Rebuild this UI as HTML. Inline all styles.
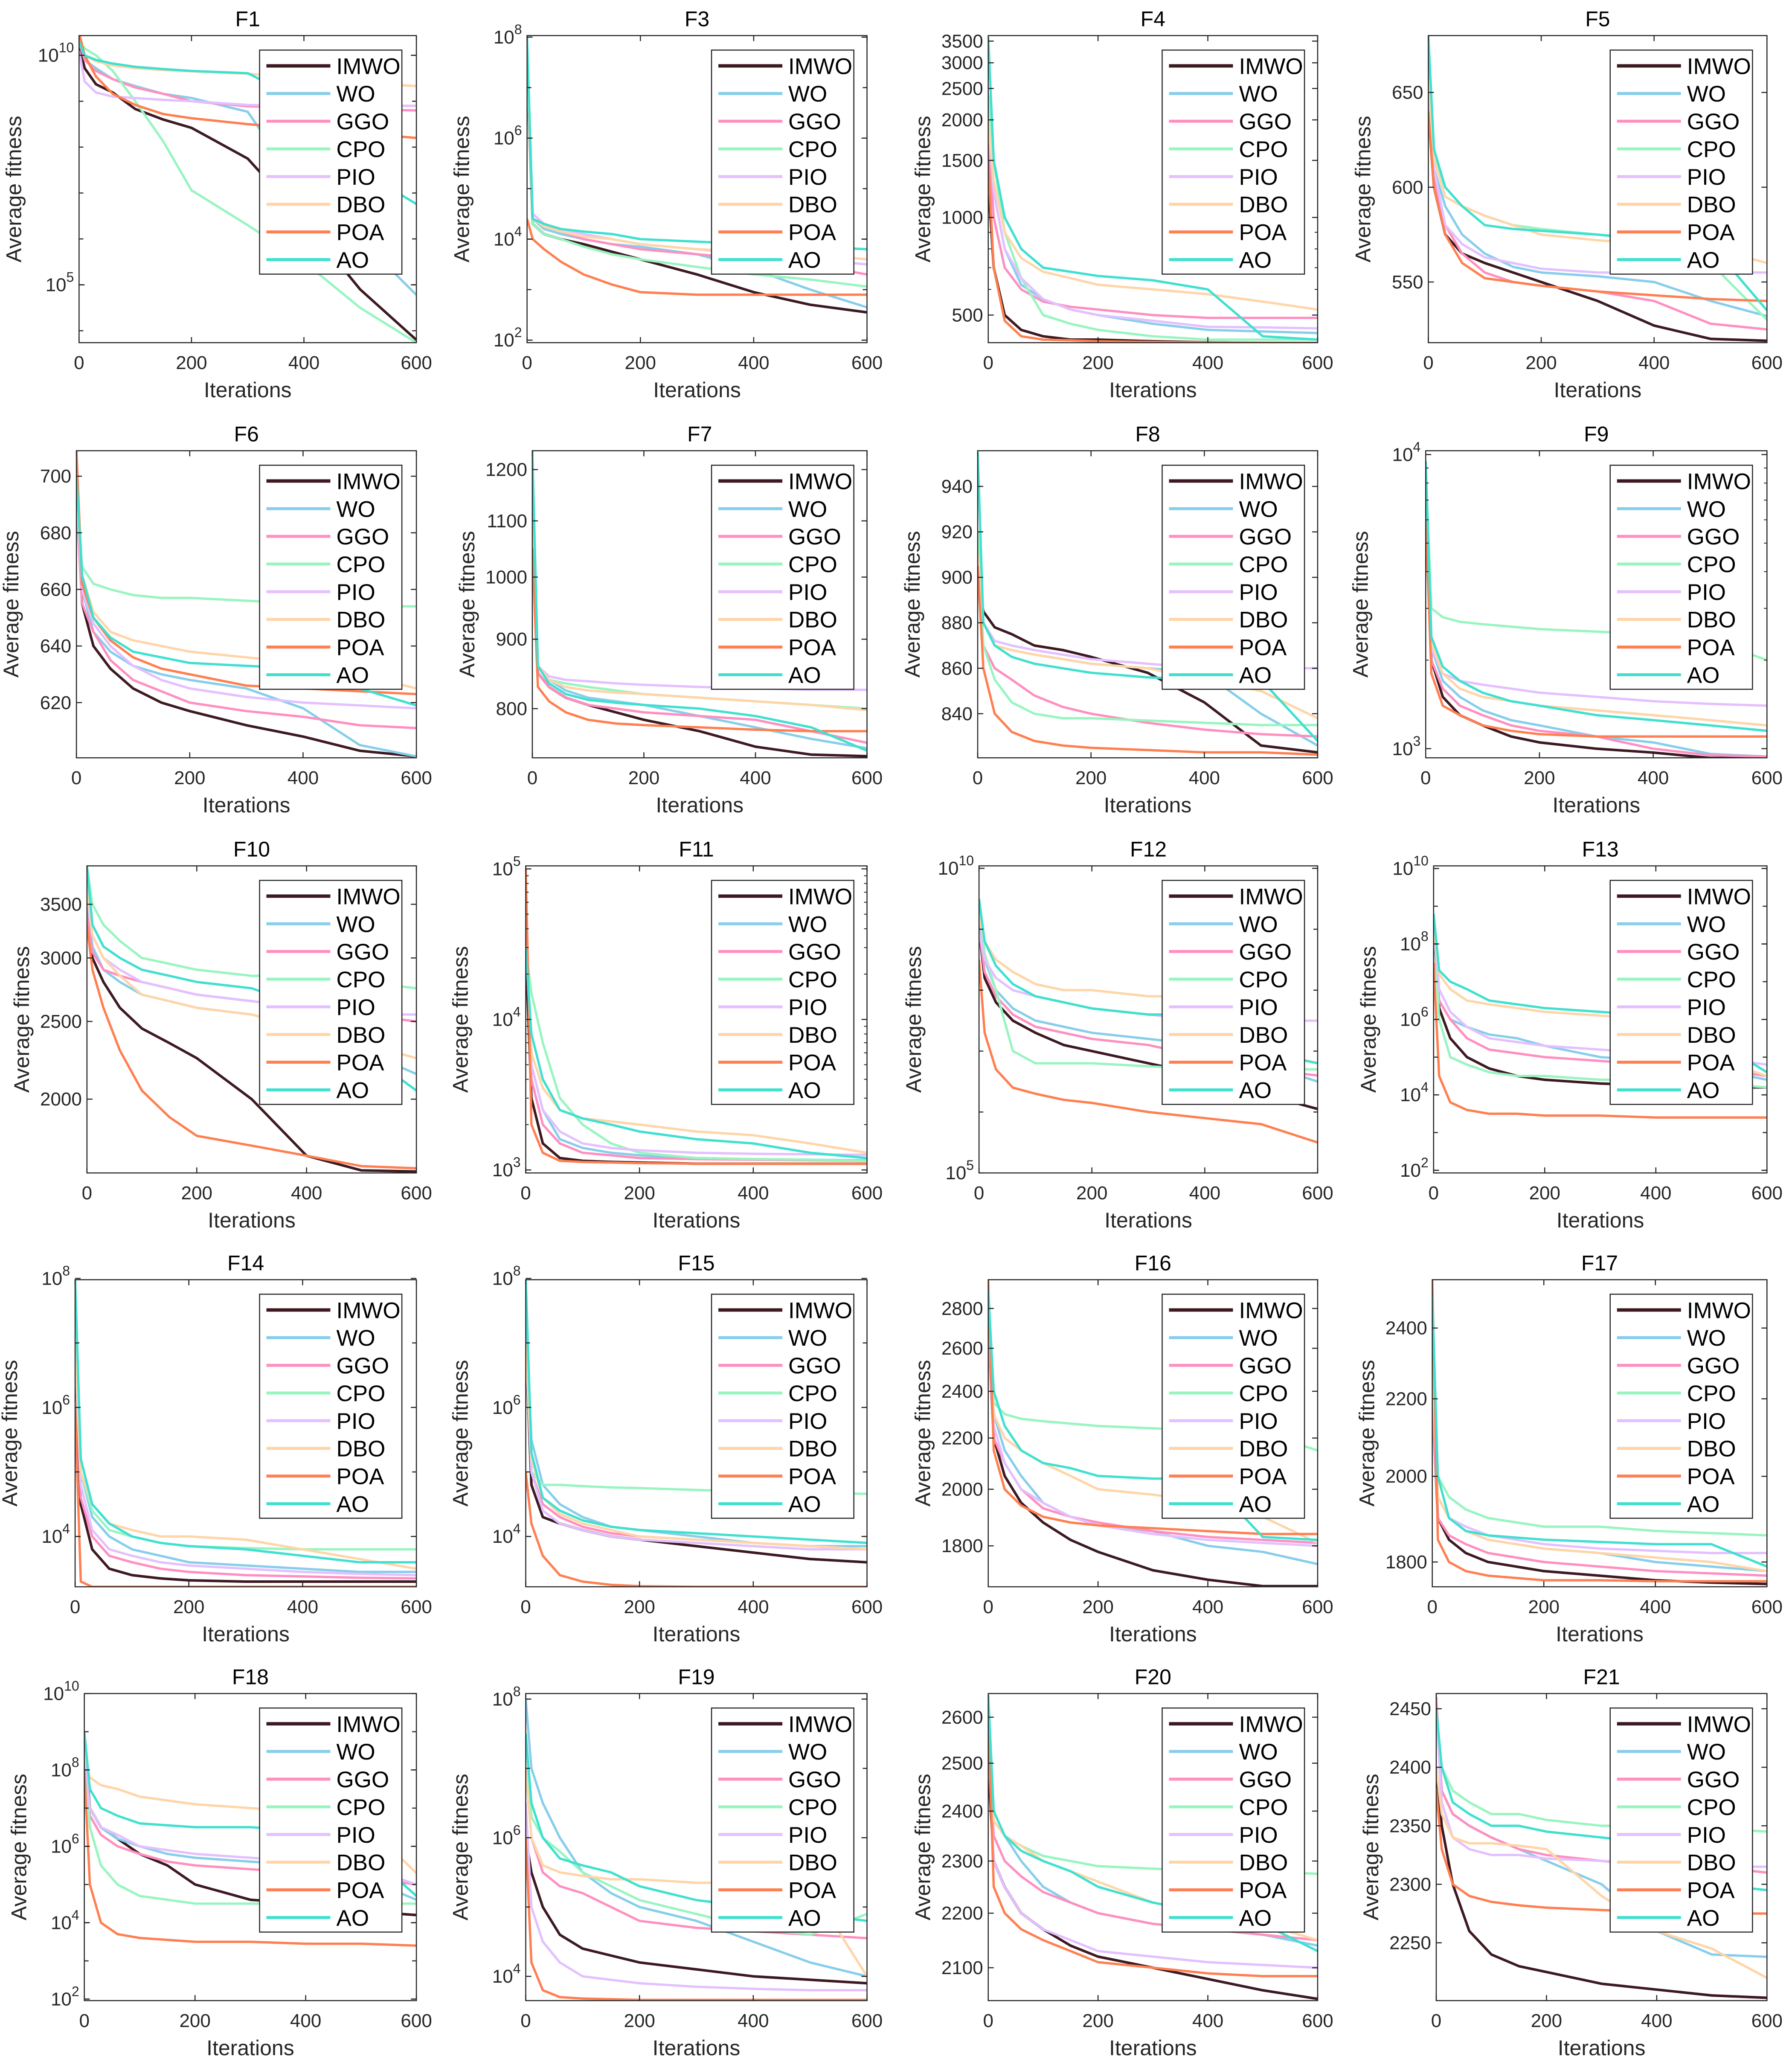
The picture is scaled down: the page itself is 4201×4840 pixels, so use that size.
<!DOCTYPE html>
<html><head><meta charset="utf-8">
<style>
html,body{margin:0;padding:0;background:#fff;}
svg{display:block;font-family:"Liberation Sans",Arial,sans-serif;}
</style></head>
<body>
<svg id="fig" width="4201" height="4840" viewBox="0 0 4201 4840" xmlns="http://www.w3.org/2000/svg"></svg>
<script>
// ---- data ----
const iterations=[0,10,30,60,100,150,200,300,400,500,600];
const algorithms=["IMWO","WO","GGO","CPO","PIO","DBO","POA","AO"];
const colors=["#3d1a22","#87ceeb","#ff8fc0","#98f5c0","#e3c0ff","#ffd5a8","#ff7f50","#40e0d0"];
const titles=["F1","F3","F4","F5","F6","F7","F8","F9","F10","F11","F12","F13","F14","F15","F16","F17","F18","F19","F20","F21"];
// axis type: "logexp" = values are log10 exponents; "log" = log axis, raw values; "lin" = linear
const axisTypes=["logexp","logexp","log","lin","lin","log","lin","log","log","log","logexp","logexp","logexp","logexp","log","log","logexp","logexp","log","lin"];
const yMins=[3.74,1.95,411,518,600.5,736,820.6,931,1618,955,5.0,1.93,3.22,3.22,1668,1746,1.96,3.65,2042,2200.6];
const yMaxs=[10.43,8.03,3640,680,709,1239,955.7,10304,3908,104713,10.04,10.07,7.98,7.98,2954,2547,10.0,8.08,2653,2463];
const yTicks=[[5,10],[2,4,6,8],[500,1000,1500,2000,2500,3000,3500],[550,600,650],[620,640,660,680,700],[800,900,1000,1100,1200],[840,860,880,900,920,940],[1000,10000],[2000,2500,3000,3500],[1000,10000,100000],[5,10],[2,4,6,8,10],[4,6,8],[4,6,8],[1800,2000,2200,2400,2600,2800],[1800,2000,2200,2400],[2,4,6,8,10],[4,6,8],[2100,2200,2300,2400,2500,2600],[2250,2300,2350,2400,2450]];
const yTickLabels=[["10^5","10^10"],["10^2","10^4","10^6","10^8"],["500","1000","1500","2000","2500","3000","3500"],["550","600","650"],["620","640","660","680","700"],["800","900","1000","1100","1200"],["840","860","880","900","920","940"],["10^3","10^4"],["2000","2500","3000","3500"],["10^3","10^4","10^5"],["10^5","10^10"],["10^2","10^4","10^6","10^8","10^10"],["10^4","10^6","10^8"],["10^4","10^6","10^8"],["1800","2000","2200","2400","2600","2800"],["1800","2000","2200","2400"],["10^2","10^4","10^6","10^8","10^10"],["10^4","10^6","10^8"],["2100","2200","2300","2400","2500","2600"],["2250","2300","2350","2400","2450"]];
const xTicks=[0,200,400,600];
// series per function (order: IMWO, WO, GGO, CPO, PIO, DBO, POA, AO)
const F1=[[10.2,9.72,9.37,9.19,8.83,8.6,8.42,7.75,6.4,4.9,3.8],[10.3,9.9,9.72,9.48,9.33,9.16,9.07,8.77,7.0,6.0,4.78],[10.3,9.9,9.66,9.48,9.3,9.16,9.0,8.89,8.85,8.82,8.8],[10.3,10.15,10.0,9.66,9.0,8.12,7.06,6.3,5.5,4.5,3.74],[10.1,9.43,9.19,9.1,9.07,9.03,9.0,8.92,8.9,8.9,8.9],[10.3,10.0,9.87,9.78,9.72,9.68,9.65,9.6,9.5,9.4,9.33],[10.5,10.0,9.54,9.16,8.92,8.72,8.63,8.5,8.4,8.3,8.2],[10.3,10.0,9.9,9.82,9.75,9.7,9.66,9.61,9.0,7.5,6.76]];
const F3=[[7.5,4.3,4.1,4.0,3.9,3.75,3.6,3.3,2.95,2.7,2.55],[7.6,4.4,4.2,4.1,4.0,3.9,3.85,3.7,3.4,3.0,2.65],[7.6,4.5,4.3,4.15,4.0,3.9,3.8,3.7,3.6,3.5,3.3],[7.6,4.3,4.1,4.0,3.85,3.7,3.6,3.45,3.3,3.2,3.06],[7.6,4.5,4.3,4.2,4.1,4.0,3.9,3.8,3.7,3.6,3.5],[7.6,4.4,4.25,4.15,4.05,4.0,3.9,3.8,3.75,3.7,3.6],[4.4,4.0,3.8,3.55,3.3,3.1,2.95,2.9,2.9,2.9,2.9],[8.0,4.4,4.3,4.2,4.15,4.1,4.0,3.95,3.9,3.85,3.8]];
const F4=[[1300,700,500,450,430,420,420,415,412,410,410],[2000,1200,800,620,560,520,500,470,450,445,440],[1800,1000,700,600,550,530,520,500,490,490,490],[2400,1500,900,650,500,470,450,430,420,420,420],[2000,1200,800,650,560,520,500,480,460,458,455],[2000,1300,900,750,680,650,620,600,580,550,520],[1500,700,480,430,420,418,415,413,412,411,410],[3600,1500,1000,800,700,680,660,640,600,430,420]];
const F5=[[640,600,575,565,560,555,550,540,527,520,519],[660,610,590,575,565,558,555,553,550,540,532],[650,605,580,565,555,550,548,545,540,528,525],[670,615,600,590,585,580,578,575,573,560,530],[650,610,580,570,563,560,557,555,555,555,555],[660,615,595,590,585,580,575,572,570,568,560],[640,600,575,560,552,550,548,545,543,541,540],[680,620,600,590,580,578,577,575,572,570,535]];
const F6=[[700,655,640,632,625,620,617,612,608,603,601],[690,660,645,638,633,630,628,625,618,605,601],[690,655,645,635,628,624,620,617,615,612,611],[700,668,662,660,658,657,657,656,655,654,654],[695,660,648,640,633,628,625,622,620,619,618],[695,665,652,645,642,640,638,636,634,630,625],[709,662,650,642,636,632,630,626,625,624,623],[700,665,650,643,638,636,634,633,632,625,619]];
const F7=[[1100,850,830,815,805,795,785,770,750,740,738],[1150,860,840,825,815,810,805,790,775,760,748],[1100,850,830,815,805,800,795,790,785,770,755],[1200,860,840,835,830,825,820,815,810,805,800],[1150,860,845,840,838,835,833,830,828,826,826],[1100,860,840,830,825,822,820,815,810,805,798],[1050,830,810,795,785,780,778,775,772,770,770],[1239,860,835,820,812,808,805,800,790,775,745]];
const F8=[[900,885,878,875,870,868,865,858,845,826,823],[910,880,870,868,866,864,862,860,858,840,826],[900,870,860,855,848,843,840,836,833,831,830],[920,870,855,845,840,838,838,837,836,835,835],[910,880,872,870,868,866,864,862,860,860,860],[910,880,870,868,866,864,862,860,855,850,838],[905,860,840,832,828,826,825,824,823,823,822],[955,880,870,865,862,860,858,856,855,855,828]];
const F9=[[8000,2000,1500,1300,1200,1100,1050,1000,970,930,930],[9000,2200,1700,1500,1350,1250,1200,1100,1050,960,940],[8000,2000,1600,1400,1300,1200,1150,1100,1000,950,940],[9000,3000,2800,2700,2650,2600,2550,2500,2450,2350,2000],[8000,2200,1800,1700,1650,1600,1550,1500,1450,1420,1400],[8000,2300,1800,1600,1500,1450,1400,1350,1300,1250,1200],[6000,1800,1400,1300,1200,1150,1120,1100,1100,1100,1100],[9500,2400,1900,1700,1550,1450,1400,1300,1250,1200,1150]];
const F10=[[3400,3000,2800,2600,2450,2350,2250,2000,1700,1630,1625],[3500,3100,2900,2800,2700,2650,2600,2550,2450,2300,2150],[3400,3050,2900,2850,2800,2750,2700,2650,2600,2550,2500],[3900,3500,3300,3150,3000,2950,2900,2850,2850,2800,2750],[3600,3200,3000,2900,2800,2750,2700,2650,2600,2550,2550],[3700,3200,3000,2850,2700,2650,2600,2550,2450,2350,2250],[3300,2900,2600,2300,2050,1900,1800,1750,1700,1650,1640],[3900,3300,3100,3000,2900,2850,2800,2750,2600,2300,2050]];
const F11=[[30000,3000,1500,1200,1150,1130,1120,1100,1100,1100,1100],[40000,5000,2500,1600,1400,1300,1250,1200,1180,1170,1160],[60000,4000,2000,1500,1300,1250,1200,1180,1170,1160,1150],[30000,15000,7000,3000,2000,1500,1300,1200,1180,1170,1150],[40000,5000,2500,1800,1500,1400,1350,1300,1280,1270,1260],[40000,6000,3500,2500,2200,2100,2000,1800,1700,1500,1300],[100000,2000,1300,1150,1130,1120,1110,1100,1100,1100,1100],[30000,8000,4000,2500,2200,2000,1800,1600,1500,1300,1200]];
const F12=[[9.0,8.2,7.8,7.5,7.3,7.1,7.0,6.8,6.6,6.3,6.05],[9.2,8.5,8.0,7.7,7.5,7.4,7.3,7.2,7.1,6.8,6.5],[9.0,8.3,7.9,7.6,7.4,7.3,7.2,7.1,6.9,6.7,6.6],[9.5,8.6,8.0,7.0,6.8,6.8,6.8,6.75,6.7,6.7,6.7],[9.0,8.5,8.2,8.0,7.9,7.8,7.7,7.6,7.5,7.5,7.5],[9.2,8.8,8.5,8.3,8.1,8.0,8.0,7.9,7.9,7.0,6.8],[8.5,7.3,6.7,6.4,6.3,6.2,6.15,6.0,5.9,5.8,5.5],[9.5,8.8,8.4,8.1,7.9,7.8,7.7,7.6,7.6,7.0,6.8]];
const F13=[[8.5,6.3,5.5,5.0,4.7,4.5,4.4,4.3,4.25,4.2,4.2],[8.5,6.5,6.0,5.8,5.6,5.5,5.3,5.0,4.9,4.7,4.4],[8.5,6.5,6.0,5.5,5.2,5.1,5.0,4.9,4.8,4.7,4.5],[8.8,6.0,5.0,4.8,4.6,4.5,4.5,4.4,4.4,4.3,4.2],[8.5,6.8,6.2,5.8,5.5,5.4,5.3,5.2,5.1,5.0,4.8],[8.5,7.2,6.8,6.5,6.4,6.3,6.2,6.1,6.0,5.0,4.5],[7.5,4.5,3.8,3.6,3.5,3.5,3.45,3.45,3.4,3.4,3.4],[8.8,7.3,7.0,6.8,6.5,6.4,6.3,6.2,6.1,5.5,4.6]];
const F14=[[7.0,4.5,3.8,3.5,3.4,3.35,3.32,3.3,3.3,3.3,3.3],[7.0,5.0,4.3,4.0,3.8,3.7,3.6,3.55,3.5,3.45,3.45],[7.0,4.6,4.0,3.7,3.6,3.5,3.45,3.4,3.38,3.36,3.35],[7.0,5.0,4.4,4.1,4.0,3.9,3.85,3.82,3.8,3.8,3.8],[7.0,4.8,4.1,3.8,3.7,3.6,3.55,3.5,3.45,3.42,3.4],[7.0,5.0,4.5,4.2,4.1,4.0,4.0,3.95,3.8,3.65,3.5],[6.0,3.3,3.22,3.22,3.22,3.22,3.22,3.22,3.22,3.22,3.22],[8.0,5.2,4.5,4.2,4.0,3.9,3.85,3.8,3.7,3.6,3.6]];
const F15=[[7.0,4.8,4.3,4.2,4.1,4.0,3.95,3.85,3.75,3.65,3.6],[7.5,5.5,4.8,4.5,4.3,4.15,4.1,4.0,3.9,3.85,3.85],[7.0,5.0,4.5,4.3,4.15,4.05,4.0,3.95,3.9,3.85,3.8],[7.0,5.0,4.8,4.8,4.78,4.76,4.75,4.72,4.7,4.68,4.66],[7.0,5.0,4.4,4.2,4.1,4.0,3.95,3.9,3.85,3.8,3.8],[7.0,5.2,4.6,4.35,4.2,4.1,4.0,3.95,3.9,3.85,3.8],[5.0,4.2,3.7,3.4,3.3,3.25,3.23,3.22,3.22,3.22,3.22],[8.0,5.3,4.6,4.4,4.25,4.15,4.1,4.05,4.0,3.95,3.9]];
const F16=[[2700,2200,2050,1950,1880,1820,1780,1720,1690,1670,1670],[2800,2300,2150,2050,1950,1900,1870,1850,1800,1780,1740],[2700,2200,2100,2000,1930,1900,1880,1850,1830,1820,1810],[2900,2350,2300,2280,2270,2260,2250,2240,2230,2220,2150],[2800,2250,2100,2000,1950,1900,1870,1840,1820,1810,1800],[2800,2300,2200,2150,2100,2050,2000,1980,1950,1900,1810],[2950,2150,2000,1940,1900,1880,1870,1860,1850,1840,1840],[2900,2400,2250,2150,2100,2080,2050,2040,2040,1830,1820]];
const F17=[[2200,1900,1850,1820,1800,1790,1780,1770,1760,1755,1752],[2300,1950,1900,1870,1850,1840,1830,1820,1800,1790,1780],[2200,1900,1860,1840,1820,1810,1800,1790,1780,1775,1770],[2400,2000,1950,1920,1900,1890,1880,1880,1870,1865,1860],[2300,1950,1900,1880,1860,1850,1840,1830,1825,1820,1820],[2300,1950,1900,1870,1850,1840,1830,1820,1810,1800,1780],[2547,1850,1800,1780,1770,1765,1760,1760,1758,1758,1758],[2500,2000,1900,1870,1860,1855,1850,1845,1840,1840,1790]];
const F18=[[8.8,7.0,6.5,6.2,5.8,5.5,5.0,4.6,4.5,4.3,4.2],[8.5,7.0,6.5,6.2,6.0,5.8,5.7,5.6,5.5,5.2,4.6],[8.5,6.8,6.3,6.0,5.8,5.6,5.5,5.4,5.3,5.2,5.0],[9.0,6.5,5.5,5.0,4.7,4.6,4.5,4.5,4.5,4.5,4.5],[8.5,7.0,6.5,6.3,6.0,5.9,5.8,5.7,5.6,5.5,5.0],[8.5,7.8,7.6,7.5,7.3,7.2,7.1,7.0,6.9,6.7,5.3],[8.0,5.0,4.0,3.7,3.6,3.55,3.5,3.5,3.45,3.45,3.4],[9.0,7.5,7.0,6.8,6.6,6.55,6.5,6.5,6.4,6.0,4.7]];
const F19=[[6.0,5.5,5.0,4.6,4.4,4.3,4.2,4.1,4.0,3.95,3.9],[8.0,7.0,6.5,6.0,5.5,5.2,5.0,4.8,4.5,4.2,4.0],[7.0,6.0,5.5,5.3,5.2,5.0,4.8,4.7,4.65,4.6,4.55],[7.5,6.3,6.0,5.8,5.5,5.3,5.1,4.9,4.7,4.6,4.9],[6.5,5.0,4.5,4.2,4.0,3.95,3.9,3.85,3.82,3.8,3.8],[7.0,6.0,5.6,5.5,5.45,5.4,5.4,5.35,5.35,5.3,4.0],[6.0,4.2,3.8,3.7,3.68,3.67,3.66,3.66,3.66,3.66,3.66],[7.5,6.5,6.0,5.7,5.6,5.5,5.3,5.1,5.0,4.9,4.8]];
const F20=[[2500,2300,2250,2200,2170,2140,2120,2100,2080,2060,2045],[2600,2400,2350,2300,2250,2220,2200,2180,2170,2160,2140],[2550,2350,2300,2270,2240,2220,2200,2180,2170,2160,2150],[2650,2400,2350,2330,2310,2300,2290,2285,2280,2280,2275],[2550,2300,2250,2200,2170,2150,2130,2120,2110,2105,2100],[2600,2380,2350,2330,2300,2280,2260,2220,2200,2180,2150],[2600,2250,2200,2170,2150,2130,2110,2100,2090,2085,2085],[2650,2400,2350,2320,2300,2280,2250,2220,2200,2180,2130]];
const F21=[[2400,2350,2300,2260,2240,2230,2225,2215,2210,2205,2203],[2450,2380,2360,2350,2340,2330,2320,2300,2260,2240,2238],[2460,2380,2360,2350,2340,2330,2325,2320,2315,2315,2310],[2450,2400,2380,2370,2360,2360,2355,2350,2350,2348,2345],[2450,2370,2340,2330,2325,2325,2322,2320,2318,2315,2315],[2400,2360,2340,2335,2335,2333,2330,2290,2260,2245,2220],[2380,2330,2300,2290,2285,2282,2280,2278,2276,2275,2275],[2450,2400,2370,2360,2350,2350,2345,2340,2335,2300,2295]];
const allSeries=[F1,F3,F4,F5,F6,F7,F8,F9,F10,F11,F12,F13,F14,F15,F16,F17,F18,F19,F20,F21];

// ---- layout (reference-scale units, multiplied by S) ----
const S=4201/1360;
const rowTops=[27,342,657,971,1285];
const axH=233;
const colRight=[316,658,1000,1341];
const colLeft=[[60,400,750,1084],[58,404,742,1082],[66,399,743,1088],[57,399,750,1087],[64,399,750,1090]];
const legX=[197,540,882,1222];

const NS="http://www.w3.org/2000/svg";
const svg=document.getElementById('fig');
function mk(tag,attrs,parent){const e=document.createElementNS(NS,tag);for(const k in attrs)e.setAttribute(k,attrs[k]);(parent||svg).appendChild(e);return e;}
function tickText(g,x,y,label,anchor){
  const t=mk('text',{x:x,y:y,'font-size':44,'text-anchor':anchor,fill:'#262626'},g);
  
  
  if(label.indexOf('^')>0){const p=label.split('^');t.appendChild(document.createTextNode(p[0]));const s=mk('tspan',{dy:-22,'font-size':32},t);s.textContent=p[1];}
  else t.textContent=label;
  return t;
}

allSeries.forEach((series,pi)=>{
  const r=Math.floor(pi/4),c=pi%4;
  const L=colLeft[r][c]*S,R=colRight[c]*S,T=rowTops[r]*S,B=(rowTops[r]+axH)*S;
  const type=axisTypes[pi];
  const isLog=type==='log';
  const tr=v=>isLog?Math.log10(v):v;
  const lo=tr(yMins[pi]),hi=tr(yMaxs[pi]);
  const xs=v=>L+(v/600)*(R-L);
  const ys=v=>B-(tr(v)-lo)/(hi-lo)*(B-T);
  const g=mk('g',{});
  
  
  const cid='clip'+pi;
  const cp=mk('clipPath',{id:cid},g);mk('rect',{x:L,y:T,width:R-L,height:B-T},cp);
  const tt=mk('text',{x:(L+R)/2,y:T-22,'font-size':50,'text-anchor':'middle',fill:'#000'},g);
  
  
  tt.textContent=titles[pi];
  series.forEach((vals,si)=>{
    let d='';vals.forEach((v,i)=>{d+=(i?'L':'M')+xs(iterations[i]).toFixed(1)+','+ys(v).toFixed(1);});
    const p=mk('path',{d:d,fill:'none',stroke:colors[si],'stroke-width':si===0?6:5.5,'stroke-linejoin':'round','clip-path':'url(#'+cid+')'},g);
    
    
  });
  const box=mk('rect',{x:L,y:T,width:R-L,height:B-T,fill:'none',stroke:'#262626','stroke-width':2.5},g);
  
  
  if(type!=='lin'){
    if(type==='logexp'){for(let e=Math.ceil(lo);e<=hi;e++){const y=ys(e);mk('line',{x1:L,x2:L+10,y1:y,y2:y,stroke:'#262626','stroke-width':2.5},g);mk('line',{x1:R,x2:R-10,y1:y,y2:y,stroke:'#262626','stroke-width':2.5},g);}}
    else{for(let e=Math.floor(lo);e<=hi;e++){for(let m=1;m<10;m++){const v=m*Math.pow(10,e);const lv=Math.log10(v);if(lv<lo||lv>hi)continue;const y=ys(v);mk('line',{x1:L,x2:L+7,y1:y,y2:y,stroke:'#262626','stroke-width':2},g);mk('line',{x1:R,x2:R-7,y1:y,y2:y,stroke:'#262626','stroke-width':2},g);}}}
  }
  yTicks[pi].forEach((v,i)=>{
    const y=ys(v);
    mk('line',{x1:L,x2:L+13,y1:y,y2:y,stroke:'#262626','stroke-width':2.5},g);
    mk('line',{x1:R,x2:R-13,y1:y,y2:y,stroke:'#262626','stroke-width':2.5},g);
    tickText(g,L-12,y+15,yTickLabels[pi][i],'end');
  });
  xTicks.forEach(v=>{
    const x=xs(v);
    mk('line',{x1:x,x2:x,y1:B,y2:B-13,stroke:'#262626','stroke-width':2.5},g);
    mk('line',{x1:x,x2:x,y1:T,y2:T+13,stroke:'#262626','stroke-width':2.5},g);
    tickText(g,x,B+62,String(v),'middle');
  });
  const xl=mk('text',{x:(L+R)/2,y:B+128,'font-size':50,'text-anchor':'middle',fill:'#262626'},g);
  
  
  xl.textContent='Iterations';
  const yx=L-136,yy=(T+B)/2;
  const yl=mk('text',{x:yx,y:yy,'font-size':50,'text-anchor':'middle',fill:'#262626',transform:'rotate(-90 '+yx+' '+yy+')'},g);
  
  
  yl.textContent='Average fitness';
  const lx=legX[c]*S,ly=T+11*S,lw=108*S,lh=170*S;
  const lg=mk('g',{},g);
  
  
  mk('rect',{x:lx,y:ly,width:lw,height:lh,fill:'#fff',stroke:'#262626','stroke-width':2.5},lg);
  algorithms.forEach((a,si)=>{
    const ey=ly+37+si*21*S;
    const e=mk('g',{},lg);
    
    
    mk('line',{x1:lx+16,x2:lx+166,y1:ey,y2:ey,stroke:colors[si],'stroke-width':si===0?8:7},e);
    const t=mk('text',{x:lx+180,y:ey+19,'font-size':53,fill:'#000'},e);
    t.textContent=a;
  });
});
</script>
</body></html>
